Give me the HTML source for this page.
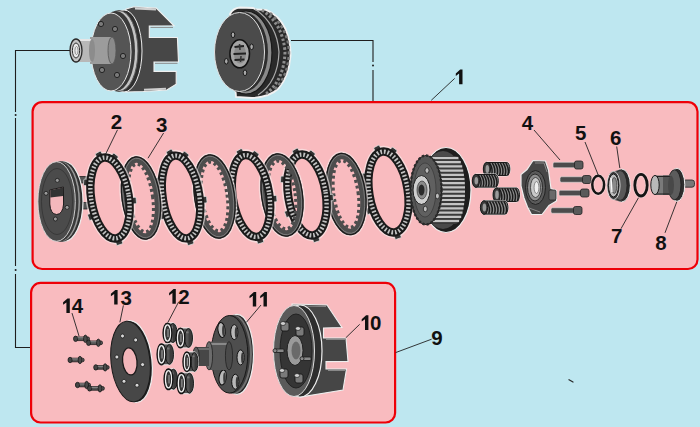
<!DOCTYPE html><html><head><meta charset="utf-8"><style>
html,body{margin:0;padding:0;background:#bee7f0;width:700px;height:427px;overflow:hidden}
svg{display:block}
text{font-family:"Liberation Sans",sans-serif;font-weight:bold;fill:#111}
</style></head><body>
<svg width="700" height="427" viewBox="0 0 700 427">
<rect width="700" height="427" fill="#bee7f0"/>
<g stroke="#1e1e1e" stroke-width="1.1" fill="none">
<polyline points="72,50.5 15.5,50.5 15.5,112"/>
<polyline points="15.5,118 15.5,266"/>
<polyline points="15.5,274 15.5,347.5 30,347.5"/>
<polyline points="291,40.5 373,40.5 373,62"/>
<line x1="373" y1="70" x2="373" y2="101"/>
</g>
<g fill="#1e1e1e"><circle cx="15.6" cy="115" r="1"/><circle cx="15.6" cy="270" r="1"/><circle cx="373" cy="65.5" r="1"/></g>
<rect x="32.6" y="102.1" width="664.9" height="166.9" rx="9.5" fill="#f9bbbf" stroke="#ee0008" stroke-width="2.2"/>
<rect x="31.1" y="282.9" width="364" height="139.6" rx="9.5" fill="#f9bbbf" stroke="#ee0008" stroke-width="2.2"/>
<g id="basket">
<path d="M126 9 L134 6.8 L156.3 8 L174 25.8 L149.3 26 L149.3 37.5 L177.4 37.5 L178.5 62 L154 62 L154 71.4 L176.2 71.4 L176.2 84.3 L166.8 90 L143.4 91.5 L126 92 Z" fill="#474747" stroke="#f0f0f0" stroke-width="1.1"/>
<path d="M135 8.3 L156 9.3" stroke="#cfcfcf" stroke-width="2.2"/>
<path d="M144 89.8 L166 88.8" stroke="#cfcfcf" stroke-width="2"/>
<path d="M150.5 27.4 L173 27.4 M155 63.3 L177.5 63.3" stroke="#8a8a8a" stroke-width="1"/>
<ellipse cx="124" cy="51" rx="18" ry="41" fill="#2f2f2f" stroke="#eee" stroke-width="1"/>
<ellipse cx="119" cy="51" rx="19" ry="40.5" fill="#c4c4c4" stroke="#555" stroke-width="1"/>
<ellipse cx="116" cy="51" rx="19" ry="40" fill="#3a3a3a"/>
<ellipse cx="111" cy="52" rx="20" ry="39" fill="#555" stroke="#e8e8e8" stroke-width="1"/>
<g fill="#7a7a7a" stroke="#222" stroke-width="1">
<circle cx="101" cy="24" r="2.6"/><circle cx="115" cy="29" r="2.6"/><circle cx="123" cy="56" r="2.6"/><circle cx="102" cy="70" r="2.6"/><circle cx="117" cy="75" r="2.6"/>
</g>
<path d="M90 37 L112 37 L112 64 L90 64 Z" fill="#9c9c9c"/>
<ellipse cx="112" cy="50.5" rx="4" ry="13.5" fill="#8a8a8a" stroke="#555" stroke-width=".8"/>
<path d="M76 39 L92 39 L92 62 L76 62 Z" fill="#b8b8b8"/>
<path d="M78 40 L91 40" stroke="#e6e6e6" stroke-width="2"/>
<ellipse cx="92" cy="50.5" rx="3" ry="11.5" fill="#8c8c8c"/>
<ellipse cx="76" cy="50.5" rx="6" ry="11.5" fill="#c4c4c4" stroke="#2a2a2a" stroke-width="1.3"/>
<ellipse cx="76" cy="50.5" rx="3.6" ry="7.5" fill="#e8e8e8" stroke="#333" stroke-width="1"/>
<ellipse cx="76.5" cy="50.5" rx="1.6" ry="4" fill="none" stroke="#777" stroke-width=".8"/>
</g>
<g id="pack">
<path d="M230 14 Q233 8 240 7.5 L253 8 L256 9.5 L266 9.8 Q279 15 285.5 29 Q291 42 290.5 56 Q289 76 279 88 Q270 97 252 98 L236 97 Z" fill="#2a2a2a" stroke="#f2f2f2" stroke-width="1.8"/>
<g fill="none" stroke-linecap="butt">
<path d="M262 10 Q283 24 285 52 Q284 80 266 94" stroke="#8d8d8d" stroke-width="3" stroke-dasharray="2.5 2"/>
<path d="M270 13 Q289 30 289 53 Q288 78 273 91" stroke="#7a7a7a" stroke-width="2.5" stroke-dasharray="3 2.5"/>
<path d="M255 9 Q277 24 279 52 Q278 82 258 95" stroke="#aaa" stroke-width="1.2"/>
</g>
<ellipse cx="246" cy="52.5" rx="26" ry="41.5" fill="#8a8a8a" stroke="#1a1a1a" stroke-width="1.2"/>
<ellipse cx="243" cy="52" rx="25" ry="40" fill="#2e2e2e"/>
<ellipse cx="239.5" cy="52" rx="25" ry="39.5" fill="#4b4b4b" stroke="#e0e0e0" stroke-width="1"/>
<ellipse cx="239.7" cy="53.8" rx="9.8" ry="14" fill="#a5a5a5" stroke="#111" stroke-width="1.5"/>
<ellipse cx="240" cy="54" rx="6" ry="9.5" fill="#8a8a8a"/>
<path d="M234.5 47 L244 46 M233.5 54 L246 53.5 M234.5 60 L244.5 59.5" stroke="#222" stroke-width="2"/>
<path d="M239.5 44 L240 50 M241 56 L240.5 62" stroke="#333" stroke-width="1.5"/>
<g fill="#a8a8a8" stroke="#111" stroke-width=".9">
<ellipse cx="233" cy="34.8" rx="1.8" ry="2.8"/><ellipse cx="251.6" cy="46.8" rx="1.8" ry="2.8"/><ellipse cx="226.3" cy="61.3" rx="1.8" ry="2.8"/><ellipse cx="245" cy="72.8" rx="1.8" ry="2.8"/>
</g>
</g>
<g id="pplate">
<rect x="74" y="176.5" width="14.5" height="6.5" rx="1.5" fill="#555" stroke="#222" stroke-width=".8"/>
<rect x="74" y="202.5" width="14.5" height="6.5" rx="1.5" fill="#555" stroke="#222" stroke-width=".8"/>
<ellipse cx="64" cy="201.5" rx="19" ry="40" fill="#2e2e2e" stroke="#eee" stroke-width="1.2"/>
<ellipse cx="61.5" cy="201.5" rx="19" ry="40" fill="#9a9a9a" stroke="#333" stroke-width=".8"/>
<ellipse cx="59.5" cy="201.5" rx="19" ry="40" fill="#3a3a3a"/>
<ellipse cx="56.6" cy="201.5" rx="18.7" ry="39.8" fill="#4b4b4b" stroke="#ddd" stroke-width=".9"/>
<ellipse cx="57" cy="201.5" rx="15.5" ry="33" fill="none" stroke="#333" stroke-width=".8"/>
<path d="M49.8 190 L63.4 187 L63.6 204 Q62.8 214.3 56.6 214.5 Q50.4 214.2 49.8 204 Z" fill="#f4b8bc" stroke="#1a1a1a" stroke-width="1"/>
<path d="M50.3 190.2 L63 187.4 L63 196 L50.3 197.5 Z" fill="#333"/>
<g fill="#999" stroke="#1a1a1a" stroke-width=".8"><circle cx="57.3" cy="180.4" r="2"/><circle cx="46" cy="193.3" r="2"/><circle cx="67.1" cy="207.4" r="2"/><circle cx="55.4" cy="219" r="2"/></g>
</g>
<g transform="translate(388.5 192) rotate(-9)">
<ellipse rx="24.1" ry="45.6" fill="none" stroke="#f6eeee" stroke-width="2" opacity=".6"/>
<rect x="-2.5" y="-3.2" width="5" height="6.4" rx="1" fill="#333" stroke="#e6e6e6" stroke-width=".7" transform="translate(-4.13 -44.61) rotate(-108.76)"/>
<rect x="-2.5" y="-3.2" width="5" height="6.4" rx="1" fill="#333" stroke="#e6e6e6" stroke-width=".7" transform="translate(11.17 -40) rotate(-44.31)"/>
<rect x="-2.5" y="-3.2" width="5" height="6.4" rx="1" fill="#333" stroke="#e6e6e6" stroke-width=".7" transform="translate(23.57 6.3) rotate(4.17)"/>
<rect x="-2.5" y="-3.2" width="5" height="6.4" rx="1" fill="#333" stroke="#e6e6e6" stroke-width=".7" transform="translate(2.07 45.13) rotate(80.43)"/>
<rect x="-2.5" y="-3.2" width="5" height="6.4" rx="1" fill="#333" stroke="#e6e6e6" stroke-width=".7" transform="translate(-22.36 15.49) rotate(169.3)"/>
<rect x="-2.5" y="-3.2" width="5" height="6.4" rx="1" fill="#333" stroke="#e6e6e6" stroke-width=".7" transform="translate(-21.57 -19.14) rotate(-166.39)"/>
<ellipse rx="19.3" ry="40.8" fill="none" stroke="#1b1b1b" stroke-width="8.4"/>
<ellipse rx="19.3" ry="40.8" fill="none" stroke="#c2c2c2" stroke-width="4.4" stroke-dasharray="1.7 1.9"/>
</g>
<g transform="translate(346 194) rotate(-8)">
<ellipse rx="20.6" ry="42.1" fill="none" stroke="#f6eeee" stroke-width="2" opacity=".6"/>
<ellipse rx="16.8" ry="38.3" fill="none" stroke="#4d4d4d" stroke-width="6.4"/>
<ellipse rx="19.4" ry="40.9" fill="none" stroke="#1c1c1c" stroke-width="1.3"/>
<ellipse rx="18.1" ry="39.6" fill="none" stroke="#8a8a8a" stroke-width=".7"/>
<ellipse rx="12.2" ry="33.7" fill="none" stroke="#4d4d4d" stroke-width="3.2" stroke-dasharray="3 2.8"/>
</g>
<g transform="translate(307 195) rotate(-9)">
<ellipse rx="23.6" ry="45.6" fill="none" stroke="#f6eeee" stroke-width="2" opacity=".6"/>
<rect x="-2.5" y="-3.2" width="5" height="6.4" rx="1" fill="#333" stroke="#e6e6e6" stroke-width=".7" transform="translate(-4.05 -44.61) rotate(-109.15)"/>
<rect x="-2.5" y="-3.2" width="5" height="6.4" rx="1" fill="#333" stroke="#e6e6e6" stroke-width=".7" transform="translate(10.94 -40) rotate(-43.69)"/>
<rect x="-2.5" y="-3.2" width="5" height="6.4" rx="1" fill="#333" stroke="#e6e6e6" stroke-width=".7" transform="translate(23.07 6.3) rotate(4.08)"/>
<rect x="-2.5" y="-3.2" width="5" height="6.4" rx="1" fill="#333" stroke="#e6e6e6" stroke-width=".7" transform="translate(2.03 45.13) rotate(80.23)"/>
<rect x="-2.5" y="-3.2" width="5" height="6.4" rx="1" fill="#333" stroke="#e6e6e6" stroke-width=".7" transform="translate(-21.89 15.49) rotate(169.53)"/>
<rect x="-2.5" y="-3.2" width="5" height="6.4" rx="1" fill="#333" stroke="#e6e6e6" stroke-width=".7" transform="translate(-21.12 -19.14) rotate(-166.68)"/>
<ellipse rx="18.8" ry="40.8" fill="none" stroke="#1b1b1b" stroke-width="8.4"/>
<ellipse rx="18.8" ry="40.8" fill="none" stroke="#c2c2c2" stroke-width="4.4" stroke-dasharray="1.7 1.9"/>
</g>
<g transform="translate(282 195) rotate(-8)">
<ellipse rx="21.6" ry="42.6" fill="none" stroke="#f6eeee" stroke-width="2" opacity=".6"/>
<ellipse rx="17.8" ry="38.8" fill="none" stroke="#4d4d4d" stroke-width="6.4"/>
<ellipse rx="20.4" ry="41.4" fill="none" stroke="#1c1c1c" stroke-width="1.3"/>
<ellipse rx="19.1" ry="40.1" fill="none" stroke="#8a8a8a" stroke-width=".7"/>
<ellipse rx="13.2" ry="34.2" fill="none" stroke="#4d4d4d" stroke-width="3.2" stroke-dasharray="3 2.8"/>
</g>
<g transform="translate(251 196) rotate(-9)">
<ellipse rx="23.1" ry="46.1" fill="none" stroke="#f6eeee" stroke-width="2" opacity=".6"/>
<rect x="-2.5" y="-3.2" width="5" height="6.4" rx="1" fill="#333" stroke="#e6e6e6" stroke-width=".7" transform="translate(-3.96 -45.1) rotate(-109.75)"/>
<rect x="-2.5" y="-3.2" width="5" height="6.4" rx="1" fill="#333" stroke="#e6e6e6" stroke-width=".7" transform="translate(10.7 -40.44) rotate(-42.73)"/>
<rect x="-2.5" y="-3.2" width="5" height="6.4" rx="1" fill="#333" stroke="#e6e6e6" stroke-width=".7" transform="translate(22.58 6.37) rotate(3.95)"/>
<rect x="-2.5" y="-3.2" width="5" height="6.4" rx="1" fill="#333" stroke="#e6e6e6" stroke-width=".7" transform="translate(1.99 45.63) rotate(79.9)"/>
<rect x="-2.5" y="-3.2" width="5" height="6.4" rx="1" fill="#333" stroke="#e6e6e6" stroke-width=".7" transform="translate(-21.42 15.66) rotate(169.86)"/>
<rect x="-2.5" y="-3.2" width="5" height="6.4" rx="1" fill="#333" stroke="#e6e6e6" stroke-width=".7" transform="translate(-20.66 -19.36) rotate(-167.1)"/>
<ellipse rx="18.3" ry="41.3" fill="none" stroke="#1b1b1b" stroke-width="8.4"/>
<ellipse rx="18.3" ry="41.3" fill="none" stroke="#c2c2c2" stroke-width="4.4" stroke-dasharray="1.7 1.9"/>
</g>
<g transform="translate(214.5 196.5) rotate(-8)">
<ellipse rx="21.1" ry="43.1" fill="none" stroke="#f6eeee" stroke-width="2" opacity=".6"/>
<ellipse rx="17.3" ry="39.3" fill="none" stroke="#4d4d4d" stroke-width="6.4"/>
<ellipse rx="19.9" ry="41.9" fill="none" stroke="#1c1c1c" stroke-width="1.3"/>
<ellipse rx="18.6" ry="40.6" fill="none" stroke="#8a8a8a" stroke-width=".7"/>
<ellipse rx="12.7" ry="34.7" fill="none" stroke="#4d4d4d" stroke-width="3.2" stroke-dasharray="3 2.8"/>
</g>
<g transform="translate(181 197) rotate(-9)">
<ellipse rx="23.1" ry="46.6" fill="none" stroke="#f6eeee" stroke-width="2" opacity=".6"/>
<rect x="-2.5" y="-3.2" width="5" height="6.4" rx="1" fill="#333" stroke="#e6e6e6" stroke-width=".7" transform="translate(-3.96 -45.6) rotate(-109.95)"/>
<rect x="-2.5" y="-3.2" width="5" height="6.4" rx="1" fill="#333" stroke="#e6e6e6" stroke-width=".7" transform="translate(10.7 -40.88) rotate(-42.42)"/>
<rect x="-2.5" y="-3.2" width="5" height="6.4" rx="1" fill="#333" stroke="#e6e6e6" stroke-width=".7" transform="translate(22.58 6.44) rotate(3.91)"/>
<rect x="-2.5" y="-3.2" width="5" height="6.4" rx="1" fill="#333" stroke="#e6e6e6" stroke-width=".7" transform="translate(1.99 46.12) rotate(79.79)"/>
<rect x="-2.5" y="-3.2" width="5" height="6.4" rx="1" fill="#333" stroke="#e6e6e6" stroke-width=".7" transform="translate(-21.42 15.84) rotate(169.97)"/>
<rect x="-2.5" y="-3.2" width="5" height="6.4" rx="1" fill="#333" stroke="#e6e6e6" stroke-width=".7" transform="translate(-20.66 -19.57) rotate(-167.24)"/>
<ellipse rx="18.3" ry="41.8" fill="none" stroke="#1b1b1b" stroke-width="8.4"/>
<ellipse rx="18.3" ry="41.8" fill="none" stroke="#c2c2c2" stroke-width="4.4" stroke-dasharray="1.7 1.9"/>
</g>
<g transform="translate(141 198) rotate(-8)">
<ellipse rx="20.1" ry="42.6" fill="none" stroke="#f6eeee" stroke-width="2" opacity=".6"/>
<ellipse rx="16.3" ry="38.8" fill="none" stroke="#4d4d4d" stroke-width="6.4"/>
<ellipse rx="18.9" ry="41.4" fill="none" stroke="#1c1c1c" stroke-width="1.3"/>
<ellipse rx="17.6" ry="40.1" fill="none" stroke="#8a8a8a" stroke-width=".7"/>
<ellipse rx="11.7" ry="34.2" fill="none" stroke="#4d4d4d" stroke-width="3.2" stroke-dasharray="3 2.8"/>
</g>
<g transform="translate(110 198) rotate(-9)">
<ellipse rx="23.6" ry="45.6" fill="none" stroke="#f6eeee" stroke-width="2" opacity=".6"/>
<rect x="-2.5" y="-3.2" width="5" height="6.4" rx="1" fill="#333" stroke="#e6e6e6" stroke-width=".7" transform="translate(-4.05 -44.61) rotate(-109.15)"/>
<rect x="-2.5" y="-3.2" width="5" height="6.4" rx="1" fill="#333" stroke="#e6e6e6" stroke-width=".7" transform="translate(10.94 -40) rotate(-43.69)"/>
<rect x="-2.5" y="-3.2" width="5" height="6.4" rx="1" fill="#333" stroke="#e6e6e6" stroke-width=".7" transform="translate(23.07 6.3) rotate(4.08)"/>
<rect x="-2.5" y="-3.2" width="5" height="6.4" rx="1" fill="#333" stroke="#e6e6e6" stroke-width=".7" transform="translate(2.03 45.13) rotate(80.23)"/>
<rect x="-2.5" y="-3.2" width="5" height="6.4" rx="1" fill="#333" stroke="#e6e6e6" stroke-width=".7" transform="translate(-21.89 15.49) rotate(169.53)"/>
<rect x="-2.5" y="-3.2" width="5" height="6.4" rx="1" fill="#333" stroke="#e6e6e6" stroke-width=".7" transform="translate(-21.12 -19.14) rotate(-166.68)"/>
<ellipse rx="18.8" ry="40.8" fill="none" stroke="#1b1b1b" stroke-width="8.4"/>
<ellipse rx="18.8" ry="40.8" fill="none" stroke="#c2c2c2" stroke-width="4.4" stroke-dasharray="1.7 1.9"/>
</g>
<g id="hub">
<ellipse cx="446" cy="190" rx="25" ry="42.5" fill="#1e1e1e" stroke="#eee" stroke-width="1.2"/>
<ellipse cx="443" cy="190" rx="22" ry="39" fill="#4a4a4a"/>
<path d="M426 156 L455 156 A10 34 0 0 1 455 224 L426 224 Z" fill="#3a3a3a"/>
<g stroke="#c4c4c4" stroke-width="2.2">
<line x1="428" y1="158.0" x2="458.4" y2="158.0"/>
<line x1="428" y1="162.2" x2="460.8" y2="162.2"/>
<line x1="428" y1="166.4" x2="462.2" y2="166.4"/>
<line x1="428" y1="170.6" x2="463.2" y2="170.6"/>
<line x1="428" y1="174.8" x2="463.9" y2="174.8"/>
<line x1="428" y1="179.0" x2="464.5" y2="179.0"/>
<line x1="428" y1="183.2" x2="464.8" y2="183.2"/>
<line x1="428" y1="187.4" x2="465.0" y2="187.4"/>
<line x1="428" y1="191.6" x2="465.0" y2="191.6"/>
<line x1="428" y1="195.8" x2="464.9" y2="195.8"/>
<line x1="428" y1="200.0" x2="464.6" y2="200.0"/>
<line x1="428" y1="204.2" x2="464.1" y2="204.2"/>
<line x1="428" y1="208.4" x2="463.4" y2="208.4"/>
<line x1="428" y1="212.6" x2="462.5" y2="212.6"/>
<line x1="428" y1="216.8" x2="461.2" y2="216.8"/>
<line x1="428" y1="221.0" x2="459.1" y2="221.0"/>
</g>
<ellipse cx="426" cy="190" rx="15.5" ry="34.5" fill="#555" stroke="#222" stroke-width="1.2"/>
<ellipse cx="426" cy="190" rx="15.5" ry="34.5" fill="none" stroke="#2a2a2a" stroke-width="2.4" stroke-dasharray="2.2 2"/>
<ellipse cx="425" cy="190" rx="11" ry="27" fill="#606060" stroke="#333" stroke-width=".6"/>
<ellipse cx="421.5" cy="190" rx="8.5" ry="14.5" fill="#cfcfcf" stroke="#222" stroke-width="1"/>
<ellipse cx="422" cy="190" rx="5" ry="9" fill="#8a8a8a" stroke="#333" stroke-width=".7"/>
<ellipse cx="421.5" cy="190" rx="3" ry="5.5" fill="#2a2a2a"/>
<g fill="#bdbdbd" stroke="#222" stroke-width=".8"><ellipse cx="427" cy="170.5" rx="2" ry="2.8"/><ellipse cx="437.4" cy="196" rx="2" ry="2.8"/><ellipse cx="425.3" cy="209" rx="2" ry="2.8"/></g>
</g>
<g>
<rect x="483.3" y="162" width="27" height="14" rx="3.5" ry="7" fill="#8c8c8c" stroke="#eee" stroke-width=".9"/>
<path d="M486.8 162.8 Q490.8 169 488.8 175.2" stroke="#1a1a1a" stroke-width="1.5" fill="none"/>
<path d="M489.51 162.8 Q493.51 169 491.51 175.2" stroke="#1a1a1a" stroke-width="1.5" fill="none"/>
<path d="M492.23 162.8 Q496.23 169 494.23 175.2" stroke="#1a1a1a" stroke-width="1.5" fill="none"/>
<path d="M494.94 162.8 Q498.94 169 496.94 175.2" stroke="#1a1a1a" stroke-width="1.5" fill="none"/>
<path d="M497.66 162.8 Q501.66 169 499.66 175.2" stroke="#1a1a1a" stroke-width="1.5" fill="none"/>
<path d="M500.37 162.8 Q504.37 169 502.37 175.2" stroke="#1a1a1a" stroke-width="1.5" fill="none"/>
<path d="M503.09 162.8 Q507.09 169 505.09 175.2" stroke="#1a1a1a" stroke-width="1.5" fill="none"/>
<path d="M505.8 162.8 Q509.8 169 507.8 175.2" stroke="#1a1a1a" stroke-width="1.5" fill="none"/>
<rect x="483.8" y="162.5" width="26" height="13" rx="3" ry="6.5" fill="none" stroke="#1a1a1a" stroke-width="1"/>
<ellipse cx="486.9" cy="169" rx="3.6" ry="6.7" fill="#3a3a3a" stroke="#1a1a1a" stroke-width="1"/>
<ellipse cx="487.3" cy="169" rx="1.8" ry="4" fill="#9a9a9a"/>
</g>
<g>
<rect x="472.3" y="174" width="26.5" height="13.6" rx="3.5" ry="6.8" fill="#8c8c8c" stroke="#eee" stroke-width=".9"/>
<path d="M475.8 174.8 Q479.8 180.8 477.8 186.8" stroke="#1a1a1a" stroke-width="1.5" fill="none"/>
<path d="M478.44 174.8 Q482.44 180.8 480.44 186.8" stroke="#1a1a1a" stroke-width="1.5" fill="none"/>
<path d="M481.09 174.8 Q485.09 180.8 483.09 186.8" stroke="#1a1a1a" stroke-width="1.5" fill="none"/>
<path d="M483.73 174.8 Q487.73 180.8 485.73 186.8" stroke="#1a1a1a" stroke-width="1.5" fill="none"/>
<path d="M486.37 174.8 Q490.37 180.8 488.37 186.8" stroke="#1a1a1a" stroke-width="1.5" fill="none"/>
<path d="M489.01 174.8 Q493.01 180.8 491.01 186.8" stroke="#1a1a1a" stroke-width="1.5" fill="none"/>
<path d="M491.66 174.8 Q495.66 180.8 493.66 186.8" stroke="#1a1a1a" stroke-width="1.5" fill="none"/>
<path d="M494.3 174.8 Q498.3 180.8 496.3 186.8" stroke="#1a1a1a" stroke-width="1.5" fill="none"/>
<rect x="472.8" y="174.5" width="25.5" height="12.6" rx="3" ry="6.3" fill="none" stroke="#1a1a1a" stroke-width="1"/>
<ellipse cx="475.9" cy="180.8" rx="3.6" ry="6.5" fill="#3a3a3a" stroke="#1a1a1a" stroke-width="1"/>
<ellipse cx="476.3" cy="180.8" rx="1.8" ry="3.8" fill="#9a9a9a"/>
</g>
<g>
<rect x="493" y="187.6" width="27" height="14.4" rx="3.5" ry="7.2" fill="#8c8c8c" stroke="#eee" stroke-width=".9"/>
<path d="M496.5 188.4 Q500.5 194.8 498.5 201.2" stroke="#1a1a1a" stroke-width="1.5" fill="none"/>
<path d="M499.21 188.4 Q503.21 194.8 501.21 201.2" stroke="#1a1a1a" stroke-width="1.5" fill="none"/>
<path d="M501.93 188.4 Q505.93 194.8 503.93 201.2" stroke="#1a1a1a" stroke-width="1.5" fill="none"/>
<path d="M504.64 188.4 Q508.64 194.8 506.64 201.2" stroke="#1a1a1a" stroke-width="1.5" fill="none"/>
<path d="M507.36 188.4 Q511.36 194.8 509.36 201.2" stroke="#1a1a1a" stroke-width="1.5" fill="none"/>
<path d="M510.07 188.4 Q514.07 194.8 512.07 201.2" stroke="#1a1a1a" stroke-width="1.5" fill="none"/>
<path d="M512.79 188.4 Q516.79 194.8 514.79 201.2" stroke="#1a1a1a" stroke-width="1.5" fill="none"/>
<path d="M515.5 188.4 Q519.5 194.8 517.5 201.2" stroke="#1a1a1a" stroke-width="1.5" fill="none"/>
<rect x="493.5" y="188.1" width="26" height="13.4" rx="3" ry="6.7" fill="none" stroke="#1a1a1a" stroke-width="1"/>
<ellipse cx="496.6" cy="194.8" rx="3.6" ry="6.9" fill="#3a3a3a" stroke="#1a1a1a" stroke-width="1"/>
<ellipse cx="497" cy="194.8" rx="1.8" ry="4.2" fill="#9a9a9a"/>
</g>
<g>
<rect x="480.4" y="200.5" width="28" height="14.1" rx="3.5" ry="7.05" fill="#8c8c8c" stroke="#eee" stroke-width=".9"/>
<path d="M483.9 201.3 Q487.9 207.55 485.9 213.8" stroke="#1a1a1a" stroke-width="1.5" fill="none"/>
<path d="M486.76 201.3 Q490.76 207.55 488.76 213.8" stroke="#1a1a1a" stroke-width="1.5" fill="none"/>
<path d="M489.61 201.3 Q493.61 207.55 491.61 213.8" stroke="#1a1a1a" stroke-width="1.5" fill="none"/>
<path d="M492.47 201.3 Q496.47 207.55 494.47 213.8" stroke="#1a1a1a" stroke-width="1.5" fill="none"/>
<path d="M495.33 201.3 Q499.33 207.55 497.33 213.8" stroke="#1a1a1a" stroke-width="1.5" fill="none"/>
<path d="M498.19 201.3 Q502.19 207.55 500.19 213.8" stroke="#1a1a1a" stroke-width="1.5" fill="none"/>
<path d="M501.04 201.3 Q505.04 207.55 503.04 213.8" stroke="#1a1a1a" stroke-width="1.5" fill="none"/>
<path d="M503.9 201.3 Q507.9 207.55 505.9 213.8" stroke="#1a1a1a" stroke-width="1.5" fill="none"/>
<rect x="480.9" y="201" width="27" height="13.1" rx="3" ry="6.55" fill="none" stroke="#1a1a1a" stroke-width="1"/>
<ellipse cx="484" cy="207.55" rx="3.6" ry="6.75" fill="#3a3a3a" stroke="#1a1a1a" stroke-width="1"/>
<ellipse cx="484.4" cy="207.55" rx="1.8" ry="4.05" fill="#9a9a9a"/>
</g>
<g id="star">
<path d="M533 160.5 L545.5 161 L548.5 170 L551 188.5 L556.5 190.5 L556.5 201 L549 205.5 L542 214.5 L531.5 214.5 L527.5 207 L524 198 L521 186 L521 174.5 L527 169.5 Z" fill="#474747" stroke="#eee" stroke-width="1.2"/>
<path d="M535 163 L544 163 L547 172 M550 191 L555 192.5 M529 208 L540 212" stroke="#8a8a8a" stroke-width="1" fill="none"/>
<ellipse cx="535.5" cy="187.5" rx="10" ry="17" fill="#5a5a5a" stroke="#222" stroke-width="1"/>
<ellipse cx="535" cy="187.5" rx="7.5" ry="13.5" fill="#8d8d8d" stroke="#222" stroke-width=".9"/>
<ellipse cx="535.5" cy="187.5" rx="5" ry="10" fill="#c9c9c9" stroke="#333" stroke-width=".8"/>
<ellipse cx="536.5" cy="187.5" rx="2.4" ry="6" fill="#f0f0f0" stroke="#555" stroke-width=".6"/>
<rect x="549" y="190" width="7" height="10" rx="1.5" fill="#6a6a6a" stroke="#222" stroke-width=".7"/>
</g>
<g><rect x="553" y="162.25" width="23" height="5.5" rx="1.5" fill="#4c4c4c" stroke="#ddd" stroke-width=".6"/><rect x="574.5" y="161" width="8.5" height="8" rx="2" fill="#5a5a5a" stroke="#222" stroke-width=".8"/></g>
<g><rect x="560" y="176.75" width="24" height="5.5" rx="1.5" fill="#4c4c4c" stroke="#ddd" stroke-width=".6"/><rect x="582.5" y="175.5" width="8.5" height="8" rx="2" fill="#5a5a5a" stroke="#222" stroke-width=".8"/></g>
<g><rect x="559" y="190.25" width="23" height="5.5" rx="1.5" fill="#4c4c4c" stroke="#ddd" stroke-width=".6"/><rect x="580.5" y="189" width="8.5" height="8" rx="2" fill="#5a5a5a" stroke="#222" stroke-width=".8"/></g>
<g><rect x="551" y="207.75" width="24" height="5.5" rx="1.5" fill="#4c4c4c" stroke="#ddd" stroke-width=".6"/><rect x="573.5" y="206.5" width="8.5" height="8" rx="2" fill="#5a5a5a" stroke="#222" stroke-width=".8"/></g>
<ellipse cx="598.2" cy="184.8" rx="5.9" ry="9" fill="none" stroke="#f2eaea" stroke-width="4" opacity=".5"/>
<ellipse cx="598.2" cy="184.8" rx="5.9" ry="9" fill="none" stroke="#151515" stroke-width="2.5"/>
<g id="bearing">
<ellipse cx="621.7" cy="185.5" rx="8.7" ry="16.5" fill="#2a2a2a" stroke="#eee" stroke-width="1"/>
<path d="M613.5 171.4 L621.7 169 L621.7 202 L613.5 199.7 Z" fill="#555"/>
<ellipse cx="620" cy="185.5" rx="7" ry="15" fill="#595959" stroke="#222" stroke-width=".8"/>
<ellipse cx="613.5" cy="185.5" rx="6.6" ry="14.2" fill="#3a3a3a" stroke="#eee" stroke-width=".8"/>
<ellipse cx="613.5" cy="185.5" rx="5" ry="11.5" fill="#bdbdbd" stroke="#1a1a1a" stroke-width="1"/>
<ellipse cx="614.2" cy="185.5" rx="2.6" ry="8" fill="#8a8a8a" stroke="#333" stroke-width=".7"/>
<path d="M611 178 L612 192" stroke="#fafafa" stroke-width="1.4"/>
</g>
<ellipse cx="641" cy="185.2" rx="6.2" ry="10.8" fill="none" stroke="#f2eaea" stroke-width="4.2" opacity=".5"/>
<ellipse cx="641" cy="185.2" rx="6.2" ry="10.8" fill="none" stroke="#151515" stroke-width="2.8"/>
<g id="p8">
<rect x="683" y="180" width="11.5" height="7.2" rx="2.5" fill="#777" stroke="#222" stroke-width=".8"/>
<ellipse cx="677" cy="184.8" rx="7.8" ry="16.6" fill="#2e2e2e" stroke="#eee" stroke-width="1"/>
<ellipse cx="674.5" cy="184.8" rx="6.5" ry="15" fill="#5c5c5c" stroke="#1a1a1a" stroke-width=".8"/>
<rect x="655" y="175.4" width="16" height="19.6" fill="#7a7a7a"/>
<rect x="663" y="175.4" width="8" height="19.6" fill="#555"/>
<path d="M655 176.5 L671 176.5" stroke="#222" stroke-width="1"/>
<path d="M655 194 L671 194" stroke="#222" stroke-width="1"/>
<ellipse cx="671" cy="185.2" rx="3" ry="9.8" fill="#484848"/>
<ellipse cx="655" cy="185" rx="4.2" ry="9.6" fill="#b9b9b9" stroke="#1a1a1a" stroke-width="1"/>
</g>
<g><rect x="74.5" y="337" width="15" height="3.6" rx="1.5" fill="#555" stroke="#1a1a1a" stroke-width=".8"/><ellipse cx="75.6" cy="338.8" rx="2.1" ry="2.7" fill="#444" stroke="#1a1a1a" stroke-width=".8"/><ellipse cx="85.38" cy="338.8" rx="1.9" ry="3.7" fill="#4a4a4a" stroke="#1a1a1a" stroke-width=".8"/><path d="M77.5 337.7 L83.38 337.7" stroke="#bbb" stroke-width=".6"/></g>
<g><rect x="87.5" y="341" width="15" height="3.6" rx="1.5" fill="#555" stroke="#1a1a1a" stroke-width=".8"/><ellipse cx="88.6" cy="342.8" rx="2.1" ry="2.7" fill="#444" stroke="#1a1a1a" stroke-width=".8"/><ellipse cx="98.38" cy="342.8" rx="1.9" ry="3.7" fill="#4a4a4a" stroke="#1a1a1a" stroke-width=".8"/><path d="M90.5 341.7 L96.38 341.7" stroke="#bbb" stroke-width=".6"/></g>
<g><rect x="69" y="358.2" width="15.1" height="3.6" rx="1.5" fill="#555" stroke="#1a1a1a" stroke-width=".8"/><ellipse cx="70.1" cy="360" rx="2.1" ry="2.7" fill="#444" stroke="#1a1a1a" stroke-width=".8"/><ellipse cx="79.95" cy="360" rx="1.9" ry="3.7" fill="#4a4a4a" stroke="#1a1a1a" stroke-width=".8"/><path d="M72 358.9 L77.95 358.9" stroke="#bbb" stroke-width=".6"/></g>
<g><rect x="94.7" y="365.6" width="14.4" height="3.6" rx="1.5" fill="#555" stroke="#1a1a1a" stroke-width=".8"/><ellipse cx="95.8" cy="367.4" rx="2.1" ry="2.7" fill="#444" stroke="#1a1a1a" stroke-width=".8"/><ellipse cx="105.15" cy="367.4" rx="1.9" ry="3.7" fill="#4a4a4a" stroke="#1a1a1a" stroke-width=".8"/><path d="M97.7 366.3 L103.15 366.3" stroke="#bbb" stroke-width=".6"/></g>
<g><rect x="76.4" y="383.2" width="14.1" height="3.6" rx="1.5" fill="#555" stroke="#1a1a1a" stroke-width=".8"/><ellipse cx="77.5" cy="385" rx="2.1" ry="2.7" fill="#444" stroke="#1a1a1a" stroke-width=".8"/><ellipse cx="86.63" cy="385" rx="1.9" ry="3.7" fill="#4a4a4a" stroke="#1a1a1a" stroke-width=".8"/><path d="M79.4 383.9 L84.63 383.9" stroke="#bbb" stroke-width=".6"/></g>
<g><rect x="88.5" y="386.6" width="15.8" height="3.6" rx="1.5" fill="#555" stroke="#1a1a1a" stroke-width=".8"/><ellipse cx="89.6" cy="388.4" rx="2.1" ry="2.7" fill="#444" stroke="#1a1a1a" stroke-width=".8"/><ellipse cx="99.96" cy="388.4" rx="1.9" ry="3.7" fill="#4a4a4a" stroke="#1a1a1a" stroke-width=".8"/><path d="M91.5 387.3 L97.96 387.3" stroke="#bbb" stroke-width=".6"/></g>
<g id="d13">
<ellipse cx="133" cy="361.5" rx="19" ry="41" fill="#222" stroke="#eee" stroke-width="1.2" transform="rotate(-6 133 361.5)"/>
<ellipse cx="130.5" cy="361.5" rx="19.5" ry="40.5" fill="#474747" stroke="#1a1a1a" stroke-width="1" transform="rotate(-6 130.5 361.5)"/>
<ellipse cx="129.8" cy="361.4" rx="7.2" ry="13.6" fill="#f2b5b9" stroke="#1a1a1a" stroke-width="1.3" transform="rotate(-6 129.8 361.4)"/>
<g fill="#d6d6d6" stroke="#1a1a1a" stroke-width=".8">
<circle cx="122.5" cy="336" r="2"/><circle cx="135.7" cy="340" r="2"/><circle cx="116.9" cy="357" r="2"/><circle cx="142.6" cy="364.6" r="2"/><circle cx="124" cy="381.3" r="2"/><circle cx="137" cy="385.2" r="2"/>
</g></g>
<g id="h11">
<ellipse cx="237" cy="354.3" rx="16.5" ry="40" fill="#262626" stroke="#eee" stroke-width="1.2"/>
<ellipse cx="234" cy="354.3" rx="18" ry="39.5" fill="#707070"/>
<ellipse cx="231.5" cy="354.3" rx="18.5" ry="39.2" fill="#3a3a3a"/>
<ellipse cx="229.5" cy="354.3" rx="18.3" ry="38.8" fill="#4e4e4e" stroke="#1a1a1a" stroke-width="1"/>
<g fill="#b8b8b8" stroke="#111" stroke-width="1">
<ellipse cx="221.6" cy="330" rx="3.6" ry="7.5" transform="rotate(-8 221.6 330)"/>
<ellipse cx="234.3" cy="332.1" rx="3.6" ry="7.5"/>
<ellipse cx="240.6" cy="357.4" rx="3.6" ry="7.5"/>
<ellipse cx="235.3" cy="381.7" rx="3.6" ry="7.5"/>
<ellipse cx="222.7" cy="377.5" rx="3.6" ry="7.5" transform="rotate(8 222.7 377.5)"/>
</g>
<g fill="#3a3a3a">
<ellipse cx="223.4" cy="330.5" rx="1.3" ry="5.5"/><ellipse cx="236.1" cy="332.6" rx="1.3" ry="5.5"/><ellipse cx="242.4" cy="357.9" rx="1.3" ry="5.5"/><ellipse cx="237.1" cy="382.2" rx="1.3" ry="5.5"/><ellipse cx="224.5" cy="378" rx="1.3" ry="5.5"/>
</g>
<path d="M209 341.6 L229 341.6 L229 370 L209 370 Z" fill="#575757"/>
<path d="M209 344 L229 344" stroke="#8a8a8a" stroke-width="2"/>
<ellipse cx="229" cy="355.8" rx="3.6" ry="14.2" fill="#4a4a4a" stroke="#222" stroke-width=".8"/>
<ellipse cx="209" cy="355.8" rx="3.6" ry="14.2" fill="#6c6c6c" stroke="#222" stroke-width=".8"/>
<path d="M196 347 L209 347 L209 366 L196 366 Z" fill="#474747"/>
<path d="M196 349 L209 349" stroke="#777" stroke-width="1.5"/>
<ellipse cx="196" cy="356.5" rx="3.2" ry="9.5" fill="#5c5c5c" stroke="#222" stroke-width=".8"/>
</g>
<g><ellipse cx="194.55" cy="361.85" rx="3.95" ry="9.95" fill="#3c3c3c" stroke="#eee" stroke-width="1"/><rect x="186.85" y="351.9" width="7.7" height="19.9" fill="#535353"/><path d="M186.85 351.9 L194.55 351.9" stroke="#eee" stroke-width="1"/><path d="M186.85 371.8 L194.55 371.8" stroke="#eee" stroke-width="1"/><rect x="186.85" y="355.38" width="7.7" height="1.79" fill="#777"/><ellipse cx="194.55" cy="361.85" rx="3.45" ry="9.45" fill="none" stroke="#1a1a1a" stroke-width="1"/><ellipse cx="186.85" cy="361.85" rx="3.95" ry="9.95" fill="#2c2c2c" stroke="#111" stroke-width="1.2"/><ellipse cx="186.85" cy="361.85" rx="2.45" ry="8.15" fill="none" stroke="#efefef" stroke-width="1.3"/><ellipse cx="187.15" cy="361.85" rx="1.98" ry="6.17" fill="#3a3a3a"/><path d="M187.35 357.87 L187.35 365.83" stroke="#aaa" stroke-width="1"/></g>
<g><ellipse cx="173" cy="333" rx="4.5" ry="10" fill="#3c3c3c" stroke="#eee" stroke-width="1"/><rect x="167.5" y="323" width="5.5" height="20" fill="#535353"/><path d="M167.5 323 L173 323" stroke="#eee" stroke-width="1"/><path d="M167.5 343 L173 343" stroke="#eee" stroke-width="1"/><rect x="167.5" y="326.5" width="5.5" height="1.8" fill="#777"/><ellipse cx="173" cy="333" rx="4" ry="9.5" fill="none" stroke="#1a1a1a" stroke-width="1"/><ellipse cx="167.5" cy="333" rx="4.5" ry="10" fill="#2c2c2c" stroke="#111" stroke-width="1.2"/><ellipse cx="167.5" cy="333" rx="3" ry="8.2" fill="none" stroke="#efefef" stroke-width="1.3"/><ellipse cx="167.8" cy="333" rx="2.25" ry="6.2" fill="#3a3a3a"/><path d="M168 329 L168 337" stroke="#aaa" stroke-width="1"/></g>
<g><ellipse cx="188.55" cy="337.95" rx="4.45" ry="9.95" fill="#3c3c3c" stroke="#eee" stroke-width="1"/><rect x="180.45" y="328" width="8.1" height="19.9" fill="#535353"/><path d="M180.45 328 L188.55 328" stroke="#eee" stroke-width="1"/><path d="M180.45 347.9 L188.55 347.9" stroke="#eee" stroke-width="1"/><rect x="180.45" y="331.48" width="8.1" height="1.79" fill="#777"/><ellipse cx="188.55" cy="337.95" rx="3.95" ry="9.45" fill="none" stroke="#1a1a1a" stroke-width="1"/><ellipse cx="180.45" cy="337.95" rx="4.45" ry="9.95" fill="#2c2c2c" stroke="#111" stroke-width="1.2"/><ellipse cx="180.45" cy="337.95" rx="2.95" ry="8.15" fill="none" stroke="#efefef" stroke-width="1.3"/><ellipse cx="180.75" cy="337.95" rx="2.23" ry="6.17" fill="#3a3a3a"/><path d="M180.95 333.97 L180.95 341.93" stroke="#aaa" stroke-width="1"/></g>
<g><ellipse cx="169.5" cy="354.35" rx="4.5" ry="10.45" fill="#3c3c3c" stroke="#eee" stroke-width="1"/><rect x="161.5" y="343.9" width="8" height="20.9" fill="#535353"/><path d="M161.5 343.9 L169.5 343.9" stroke="#eee" stroke-width="1"/><path d="M161.5 364.8 L169.5 364.8" stroke="#eee" stroke-width="1"/><rect x="161.5" y="347.56" width="8" height="1.88" fill="#777"/><ellipse cx="169.5" cy="354.35" rx="4" ry="9.95" fill="none" stroke="#1a1a1a" stroke-width="1"/><ellipse cx="161.5" cy="354.35" rx="4.5" ry="10.45" fill="#2c2c2c" stroke="#111" stroke-width="1.2"/><ellipse cx="161.5" cy="354.35" rx="3" ry="8.65" fill="none" stroke="#efefef" stroke-width="1.3"/><ellipse cx="161.8" cy="354.35" rx="2.25" ry="6.48" fill="#3a3a3a"/><path d="M162 350.17 L162 358.53" stroke="#aaa" stroke-width="1"/></g>
<g><ellipse cx="173.5" cy="379.25" rx="4.5" ry="10.45" fill="#3c3c3c" stroke="#eee" stroke-width="1"/><rect x="168.5" y="368.8" width="5" height="20.9" fill="#535353"/><path d="M168.5 368.8 L173.5 368.8" stroke="#eee" stroke-width="1"/><path d="M168.5 389.7 L173.5 389.7" stroke="#eee" stroke-width="1"/><rect x="168.5" y="372.46" width="5" height="1.88" fill="#777"/><ellipse cx="173.5" cy="379.25" rx="4" ry="9.95" fill="none" stroke="#1a1a1a" stroke-width="1"/><ellipse cx="168.5" cy="379.25" rx="4.5" ry="10.45" fill="#2c2c2c" stroke="#111" stroke-width="1.2"/><ellipse cx="168.5" cy="379.25" rx="3" ry="8.65" fill="none" stroke="#efefef" stroke-width="1.3"/><ellipse cx="168.8" cy="379.25" rx="2.25" ry="6.48" fill="#3a3a3a"/><path d="M169 375.07 L169 383.43" stroke="#aaa" stroke-width="1"/></g>
<g><ellipse cx="189.5" cy="383.25" rx="4.5" ry="10.45" fill="#3c3c3c" stroke="#eee" stroke-width="1"/><rect x="181.4" y="372.8" width="8.1" height="20.9" fill="#535353"/><path d="M181.4 372.8 L189.5 372.8" stroke="#eee" stroke-width="1"/><path d="M181.4 393.7 L189.5 393.7" stroke="#eee" stroke-width="1"/><rect x="181.4" y="376.46" width="8.1" height="1.88" fill="#777"/><ellipse cx="189.5" cy="383.25" rx="4" ry="9.95" fill="none" stroke="#1a1a1a" stroke-width="1"/><ellipse cx="181.4" cy="383.25" rx="4.5" ry="10.45" fill="#2c2c2c" stroke="#111" stroke-width="1.2"/><ellipse cx="181.4" cy="383.25" rx="3" ry="8.65" fill="none" stroke="#efefef" stroke-width="1.3"/><ellipse cx="181.7" cy="383.25" rx="2.25" ry="6.48" fill="#3a3a3a"/><path d="M181.9 379.07 L181.9 387.43" stroke="#aaa" stroke-width="1"/></g>
<g id="b10">
<path d="M292 304 L327 305 L342 327.5 L323.5 328 L323.5 338 L346 338 L348 361.4 L326 361.6 L326 369 L346.5 369 L343 390 L300 397 Z" fill="#464646" stroke="#eee" stroke-width="1.1"/>
<path d="M300 306 L326 306.5 M326 339.5 L346 339.5 M328 370.5 L345 370.5" stroke="#888" stroke-width="1"/>
<ellipse cx="300" cy="351" rx="22" ry="46" fill="#2e2e2e" stroke="#eee" stroke-width="1.2"/>
<ellipse cx="294" cy="351" rx="20.5" ry="45.5" fill="#5a5a5a" stroke="#ddd" stroke-width="1"/>
<ellipse cx="296" cy="351" rx="16" ry="37" fill="#353535" stroke="#222" stroke-width="1"/>
<ellipse cx="295" cy="350.5" rx="8" ry="15" fill="#9a9a9a" stroke="#222" stroke-width="1"/>
<ellipse cx="296" cy="350.5" rx="4.5" ry="9" fill="#6a6a6a"/>
<g fill="#7a7a7a" stroke="#1a1a1a" stroke-width=".9">
<rect x="281" y="322" width="8" height="9" rx="2"/><rect x="296" y="327" width="8" height="9" rx="2"/>
<rect x="280" y="369" width="8" height="9" rx="2"/><rect x="295" y="374" width="8" height="9" rx="2"/>
</g>
<g fill="#cfcfcf" stroke="#222" stroke-width=".7">
<ellipse cx="283" cy="323.5" rx="2.6" ry="2"/><ellipse cx="298" cy="328.5" rx="2.6" ry="2"/>
<ellipse cx="282" cy="370.5" rx="2.6" ry="2"/><ellipse cx="297" cy="375.5" rx="2.6" ry="2"/>
</g>
<g fill="#888" stroke="#1a1a1a" stroke-width=".8">
<rect x="275" y="349" width="9" height="3.5" rx="1"/><rect x="302" y="357" width="9" height="3.5" rx="1"/>
<circle cx="275" cy="350.7" r="2"/><circle cx="302" cy="358.7" r="2"/>
</g>
</g>
<g fill="#111">
<path d="M460.2 69.6 L455.8 73.5 L455.8 75.9 L459.1 73.6 L459.1 84.2 L462.5 84.2 L462.5 69.6 Z"/>
<text transform="translate(110.8 129) scale(1 1)" font-size="20.5">2</text>
<text transform="translate(156.1 132.4) scale(1 1)" font-size="20.5">3</text>
<text transform="translate(521.8 129.8) scale(1 1)" font-size="20.5">4</text>
<text transform="translate(574.9 139.8) scale(1 1)" font-size="20.5">5</text>
<text transform="translate(609.9 144.8) scale(1 1)" font-size="20.5">6</text>
<text transform="translate(610.9 243.4) scale(1 1)" font-size="20.5">7</text>
<text transform="translate(655.3 250) scale(1 1)" font-size="20.5">8</text>
<text transform="translate(431.3 344.5) scale(1 1)" font-size="20.5">9</text>
<path d="M366.1 315.3 L361.7 319.2 L361.7 321.6 L365 319.3 L365 329.9 L368.4 329.9 L368.4 315.3 Z"/>
<text transform="translate(370 329.9) scale(1 1)" font-size="20.5">0</text>
<path d="M253.9 292 L249.5 295.9 L249.5 298.3 L252.8 296 L252.8 306.6 L256.2 306.6 L256.2 292 Z"/>
<path d="M264.6 292 L260.2 295.9 L260.2 298.3 L263.5 296 L263.5 306.6 L266.9 306.6 L266.9 292 Z"/>
<path d="M173.5 289.1 L169.1 293 L169.1 295.4 L172.4 293.1 L172.4 303.7 L175.8 303.7 L175.8 289.1 Z"/>
<text transform="translate(178.2 303.7) scale(1 1)" font-size="20.5">2</text>
<path d="M115.3 289.9 L110.9 293.8 L110.9 296.2 L114.2 293.9 L114.2 304.5 L117.6 304.5 L117.6 289.9 Z"/>
<text transform="translate(120.6 304.5) scale(1 1)" font-size="20.5">3</text>
<path d="M67.5 298.4 L63.1 302.3 L63.1 304.7 L66.4 302.4 L66.4 313 L69.8 313 L69.8 298.4 Z"/>
<text transform="translate(71.8 313) scale(1 1)" font-size="20.5">4</text>
</g>
<g stroke="#222" stroke-width="0.9">
<line x1="431.25" y1="100.3" x2="454.7" y2="78.4"/>
<line x1="117.5" y1="129.8" x2="105.7" y2="154"/>
<line x1="163.6" y1="133" x2="148" y2="158.2"/>
<line x1="534" y1="130" x2="560" y2="160"/>
<line x1="585" y1="142" x2="599" y2="177"/>
<line x1="616.7" y1="146.5" x2="619.8" y2="168"/>
<line x1="621" y1="228.7" x2="638.5" y2="197.7"/>
<line x1="665" y1="232.8" x2="676.8" y2="201.8"/>
<line x1="395.6" y1="352.6" x2="431.6" y2="339.2"/>
<line x1="359.7" y1="324.3" x2="345.7" y2="337.9"/>
<line x1="261" y1="305" x2="246.3" y2="322.4"/>
<line x1="178.7" y1="301.8" x2="167.9" y2="322.4"/>
<line x1="123.4" y1="305.4" x2="119.9" y2="322.3"/>
<line x1="72" y1="313.1" x2="79.1" y2="336.3"/>
</g>
<line x1="569" y1="379.8" x2="573" y2="382" stroke="#2a2a2a" stroke-width="1.3" stroke-linecap="round"/>
</svg></body></html>
